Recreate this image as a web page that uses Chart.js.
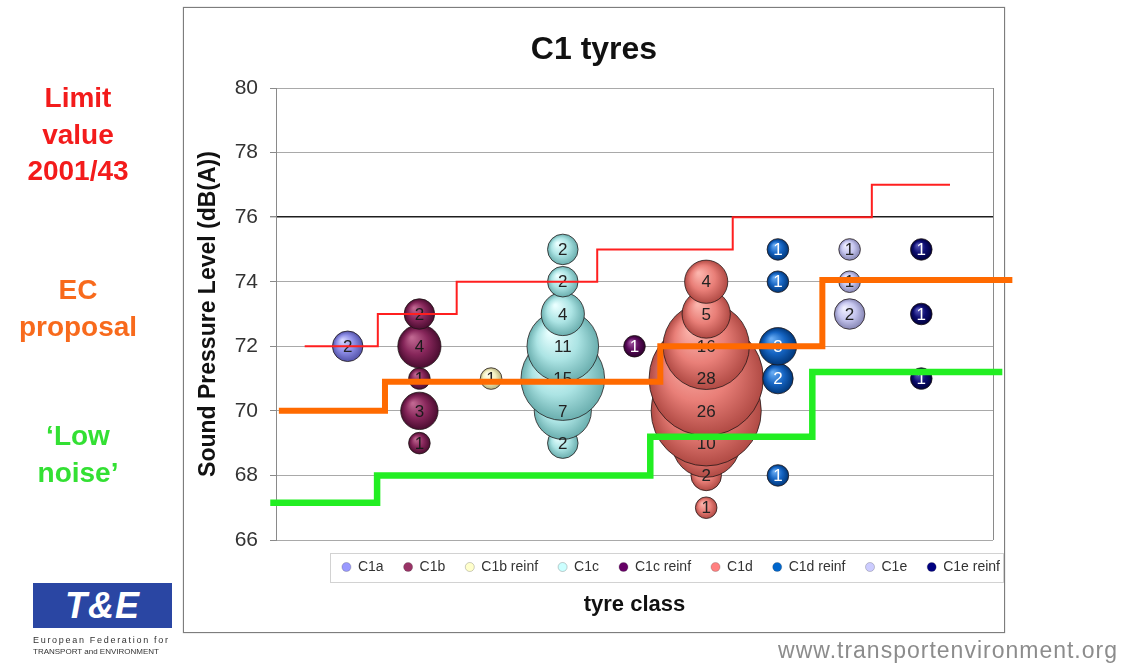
<!DOCTYPE html>
<html>
<head>
<meta charset="utf-8">
<script src="https://cdn.jsdelivr.net/npm/chart.js@4.4.1/dist/chart.umd.min.js"></script>
<style>
html,body{margin:0;padding:0;background:#fff;}
#wrap{position:relative;width:1124px;height:671px;overflow:hidden;font-family:'Liberation Sans',Arial,sans-serif;}
#frame{position:absolute;left:183px;top:7px;width:820px;height:624px;border:1px solid #7d7d7d;box-shadow:0 0 1px #9a9a9a;background:#fff;}
#c{position:absolute;left:0;top:0;}
.side{position:absolute;left:0;width:156px;text-align:center;font-weight:bold;font-size:28px;line-height:36.5px;}
#limit{top:80px;color:#f31b1b;}
#ec{top:272px;color:#f86a1c;}
#low{top:418px;color:#33e033;}
#logo{position:absolute;left:33px;top:583px;width:139px;height:45px;background:#2a46a3;color:#fff;font-weight:bold;font-style:italic;font-size:36px;line-height:45px;text-align:center;letter-spacing:1px;}
.lsub{position:absolute;left:33px;font-size:9px;line-height:11px;color:#333;white-space:nowrap;}
#url{position:absolute;right:6px;top:637px;font-size:23px;line-height:26px;color:#8c8c8c;letter-spacing:1px;}
</style>
</head>
<body>
<div id="wrap">
  <div id="frame"></div>
  <canvas id="c" width="1124" height="671"></canvas>
  <div class="side" id="limit">Limit<br>value<br>2001/43</div>
  <div class="side" id="ec">EC<br>proposal</div>
  <div class="side" id="low">‘Low<br>noise’</div>
  <div id="logo">T&amp;E</div>
  <div class="lsub" style="top:635px;letter-spacing:1.7px;">European Federation for</div>
  <div class="lsub" style="top:646px;font-size:8px;letter-spacing:0px;">TRANSPORT and ENVIRONMENT</div>
  <div id="url">www.transportenvironment.org</div>
</div>
<script>
// ---------------- data ----------------
const categories = ['C1a', 'C1b', 'C1b reinf', 'C1c', 'C1c reinf', 'C1d', 'C1d reinf', 'C1e', 'C1e reinf'];
const yTicks = [66, 68, 70, 72, 74, 76, 78, 80];

const c1aLevels = [72];                 const c1aCounts = [2];
const c1bLevels = [69, 70, 71, 72, 73]; const c1bCounts = [1, 3, 1, 4, 2];
const c1bReinfLevels = [71];            const c1bReinfCounts = [1];
const c1cLevels = [69, 70, 71, 72, 73, 74, 75]; const c1cCounts = [2, 7, 15, 11, 4, 2, 2];
const c1cReinfLevels = [72];            const c1cReinfCounts = [1];
const c1dLevels = [67, 68, 69, 70, 71, 72, 73, 74]; const c1dCounts = [1, 2, 10, 26, 28, 16, 5, 4];
const c1dReinfLevels = [68, 71, 72, 74, 75]; const c1dReinfCounts = [1, 2, 3, 1, 1];
const c1eLevels = [73, 74, 75];         const c1eCounts = [2, 1, 1];
const c1eReinfLevels = [71, 73, 75];    const c1eReinfCounts = [1, 1, 1];

// step lines (x in tyre-class index units, y in dB(A))
const limitX = [0.40, 1.42, 2.52, 4.48, 6.37, 8.31, 9.40];
const limitY = [72, 73, 74, 75, 76, 77, 77];
const ecX = [0.04, 1.52, 5.36, 7.62, 10.27];
const ecY = [70, 70.9, 72, 74.05, 74.05];
const lowX = [-0.08, 1.41, 5.22, 7.48, 10.13];
const lowY = [67.15, 68, 69.2, 71.2, 71.2];

// ---------------- styles ----------------
const FONT = "'Liberation Sans', Arial, sans-serif";
const seriesLevels = [c1aLevels, c1bLevels, c1bReinfLevels, c1cLevels, c1cReinfLevels, c1dLevels, c1dReinfLevels, c1eLevels, c1eReinfLevels];
const seriesCounts = [c1aCounts, c1bCounts, c1bReinfCounts, c1cCounts, c1cReinfCounts, c1dCounts, c1dReinfCounts, c1eCounts, c1eReinfCounts];
const styles = [
  {flat:'#9999ff', light:'#d4d4ff', base:'#8d8de6', dark:'#5252a8', text:'#222'},
  {flat:'#993366', light:'#bf6690', base:'#86265a', dark:'#4a0d30', text:'#1a1a1a'},
  {flat:'#ffffcc', light:'#ffffee', base:'#f1efc0', dark:'#b8b27c', text:'#222'},
  {flat:'#ccffff', light:'#e9ffff', base:'#ace4e4', dark:'#6aaeae', text:'#222'},
  {flat:'#660066', light:'#a054a0', base:'#5c0c5c', dark:'#2c002c', text:'#fff'},
  {flat:'#ff8080', light:'#fbb4ac', base:'#e97f78', dark:'#b04a44', text:'#222'},
  {flat:'#0066cc', light:'#66aaf2', base:'#1564c2', dark:'#003678', text:'#fff'},
  {flat:'#ccccff', light:'#f0f0ff', base:'#c6c6ef', dark:'#8686b4', text:'#222'},
  {flat:'#000080', light:'#5555b8', base:'#0d0d70', dark:'#00003c', text:'#fff'}
];
const RADIUS_PER_SQRT = 10.8;

function fontAvailable(name) {
  const cv = document.createElement('canvas').getContext('2d');
  const s = 'C1b reinf C1e WwMm 0123';
  cv.font = '40px monospace';
  const a = cv.measureText(s).width;
  cv.font = '40px "' + name + '", monospace';
  return Math.abs(cv.measureText(s).width - a) > 0.5;
}
const narrow = fontAvailable('Liberation Sans Narrow');
const LEG_FONT = narrow ? "'Liberation Sans Narrow', " + FONT : FONT;
const LEG_SIZE = narrow ? 17 : 14;
const LEG_PAD = narrow ? 19 : 20;

// vertical layout bookkeeping for the bottom boxes
const legendH = LEG_SIZE + LEG_PAD + 10;
const xTitleLH = 22 * 1.2;
const xTitlePadTop = 605 - (540 + legendH) - xTitleLH / 2;
const xTitlePadBottom = 10;
const padBottom = 671 - 540 - legendH - (xTitleLH + xTitlePadTop + xTitlePadBottom);

function gradientFor(st) {
  return function (ctx) {
    if (ctx.type !== 'data' || !ctx.raw) return st.base;
    const ch = ctx.chart, xs = ch.scales && ch.scales.x, ys = ch.scales && ch.scales.y;
    if (!xs || !ys) return st.base;
    const px = xs.getPixelForValue(ctx.raw.x), py = ys.getPixelForValue(ctx.raw.y);
    const r = ctx.raw.r;
    if (!isFinite(px) || !isFinite(py) || !isFinite(r)) return st.base;
    const g = ch.ctx.createRadialGradient(px - r * 0.35, py - r * 0.4, r * 0.05, px, py, r);
    g.addColorStop(0, st.light);
    g.addColorStop(0.55, st.base);
    g.addColorStop(1, st.dark);
    return g;
  };
}

const bubbleSets = categories.map((name, i) => ({
  type: 'bubble',
  label: name,
  order: 100 - i,
  data: seriesLevels[i].map((lv, j) => ({
    x: i + 1,
    y: lv,
    r: RADIUS_PER_SQRT * Math.sqrt(seriesCounts[i][j]),
    count: seriesCounts[i][j]
  })),
  backgroundColor: gradientFor(styles[i]),
  borderColor: 'rgba(30,20,20,0.75)',
  borderWidth: 1,
  labelColor: styles[i].text,
  legendFlat: styles[i].flat
}));

function stepSet(label, xs, ys, color, width) {
  return {
    type: 'line',
    label: label,
    order: 0,
    data: xs.map((x, k) => ({x: x, y: ys[k]})),
    stepped: 'before',
    borderColor: color,
    borderWidth: width,
    pointRadius: 0,
    fill: false,
    clip: false,
    tension: 0,
    borderCapStyle: 'butt',
    borderJoinStyle: 'miter'
  };
}
const lineSets = [
  stepSet('Limit value 2001/43', limitX, limitY, '#ff1f1f', 2),
  stepSet('EC proposal', ecX, ecY, '#ff6a00', 6),
  stepSet('Low noise', lowX, lowY, '#22ee22', 6.5)
];

const bubbleLabels = {
  id: 'bubbleLabels',
  afterDatasetDraw(chart, args) {
    const ds = chart.data.datasets[args.index];
    if (ds.type !== 'bubble') return;
    const ctx = chart.ctx;
    ctx.save();
    ctx.font = '17px ' + FONT;
    ctx.textAlign = 'center';
    ctx.textBaseline = 'middle';
    ctx.fillStyle = ds.labelColor;
    args.meta.data.forEach((el, k) => {
      ctx.fillText(String(ds.data[k].count), el.x, el.y + 1);
    });
    ctx.restore();
  }
};

const plotFrame = {
  id: 'plotFrame',
  beforeDatasetsDraw(chart) {
    const a = chart.chartArea, ctx = chart.ctx;
    ctx.save();
    ctx.strokeStyle = '#8a8a8a';
    ctx.lineWidth = 1;
    ctx.beginPath();
    ctx.moveTo(Math.round(a.right) + 0.5, a.top);
    ctx.lineTo(Math.round(a.right) + 0.5, a.bottom);
    ctx.stroke();
    ctx.restore();
  }
};

const legendPlace = {
  id: 'legendPlace',
  afterLayout(chart) {
    const lg = chart.legend;
    if (!lg) return;
    lg.right = chart.chartArea.right + 7 + LEG_PAD;
    lg.width = lg.right - lg.left;
  },
  afterDraw(chart) {
    const hb = chart.legend && chart.legend.legendHitBoxes;
    if (!hb || !hb.length) return;
    const l = Math.min(...hb.map(h => h.left));
    const r = Math.max(...hb.map(h => h.left + h.width));
    const t = Math.min(...hb.map(h => h.top));
    const b = Math.max(...hb.map(h => h.top + h.height));
    const ctx = chart.ctx;
    const vp = (29 - (b - t)) / 2;
    ctx.save();
    ctx.strokeStyle = '#d2d2d2';
    ctx.lineWidth = 1;
    ctx.strokeRect(Math.round(l - 12) + 0.5, Math.round(t - vp) + 0.5, Math.round(r - l + 15), Math.round(b - t + 2 * vp));
    ctx.restore();
  }
};

new Chart(document.getElementById('c'), {
  type: 'bubble',
  data: { datasets: [...bubbleSets, ...lineSets] },
  options: {
    responsive: false,
    animation: false,
    events: [],
    layout: { padding: { left: 195, right: 131, top: 8, bottom: padBottom } },
    scales: {
      x: {
        type: 'linear', min: 0, max: categories.length + 1,
        weight: 2000,
        grid: { display: false, drawTicks: false },
        border: { display: false },
        ticks: { display: false },
        title: { display: true, text: 'tyre class', color: '#111',
                 font: { family: FONT, size: 22, weight: 'bold' },
                 padding: { top: xTitlePadTop, bottom: xTitlePadBottom } }
      },
      y: {
        type: 'linear', min: yTicks[0], max: yTicks[yTicks.length - 1],
        afterBuildTicks: s => { s.ticks = yTicks.map(v => ({ value: v })); },
        afterFit: s => { s.width = 81; },
        grid: {
          color: c => (c.tick && c.tick.value === 76) ? '#1e1e1e' : '#a9a9a9',
          lineWidth: c => (c.tick && c.tick.value === 76) ? 1.4 : 1,
          tickColor: '#8a8a8a',
          tickLength: 6
        },
        border: { display: true, color: '#8a8a8a', width: 1 },
        ticks: { color: '#333', padding: 12, font: { family: FONT, size: 21 } },
        title: { display: true, text: 'Sound Pressure Level (dB(A))', color: '#111',
                 font: { family: FONT, size: 23, weight: 'bold' }, padding: { top: 0, bottom: 0 } }
      }
    },
    plugins: {
      tooltip: { enabled: false },
      title: { display: true, text: 'C1 tyres', color: '#111',
               font: { family: FONT, size: 32, weight: 'bold' }, padding: { top: 23, bottom: 18.6 } },
      legend: {
        display: true, position: 'bottom', align: 'end',
        labels: {
          usePointStyle: true, pointStyle: 'circle', boxWidth: 9, boxHeight: 6.4,
          padding: LEG_PAD, color: '#333', font: { family: LEG_FONT, size: LEG_SIZE },
          generateLabels: chart => chart.data.datasets
            .map((ds, i) => ({ ds, i }))
            .filter(o => o.ds.type === 'bubble')
            .map(o => ({
              text: o.ds.label, fillStyle: o.ds.legendFlat, strokeStyle: 'rgba(60,60,60,0.5)',
              lineWidth: 0.5, pointStyle: 'circle', hidden: false, datasetIndex: o.i, fontColor: '#333'
            }))
        }
      }
    }
  },
  plugins: [bubbleLabels, plotFrame, legendPlace]
});
</script>
</body>
</html>
